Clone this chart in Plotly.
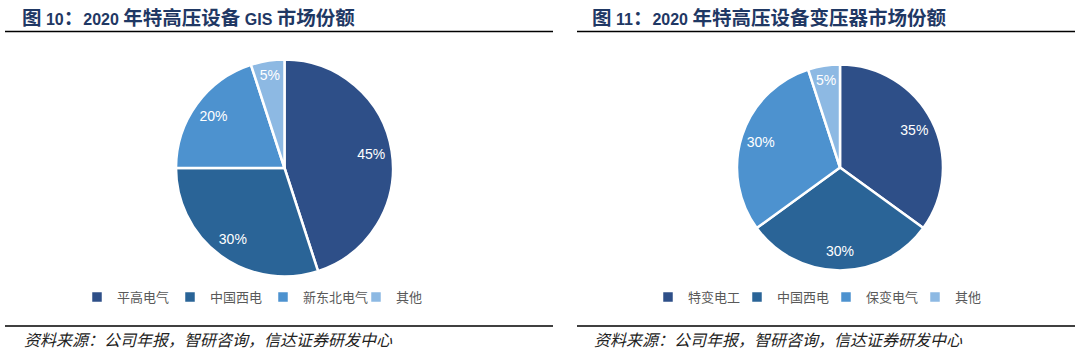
import re
import plotly.graph_objects as go

# ---- data ----
gis_labels = ["平高电气", "中国西电", "新东北电气", "其他"]
gis_values = [45, 30, 20, 5]
tr_labels = ["特变电工", "中国西电", "保变电气", "其他"]
tr_values = [35, 30, 30, 5]
title_left = "图 10：2020 年特高压设备 GIS 市场份额"
title_right = "图 11：2020 年特高压设备变压器市场份额"
source_text = "资料来源：公司年报，智研咨询，信达证券研发中心"

colors = ["#2E4F88", "#2A6497", "#4D92CF", "#8DB9E3"]
W, H = 1080, 356


def px(x):
    return x / W


def py(y):
    return 1 - y / H


def big_cjk(s, size):
    # CJK glyphs in the original title are set larger than the Latin ones
    return re.sub(r"([\u3000-\u9fff\uff00-\uffef]+)",
                  lambda m: f'<span style="font-size:{size}px">{m.group(1)}</span>', s)


fig = go.Figure()


def add_pie(labels, values, dom_x, dom_y, legend_name):
    dom = dict(x=[px(dom_x[0]), px(dom_x[1])], y=[py(dom_y[1]), py(dom_y[0])])
    fig.add_trace(go.Pie(
        labels=labels, values=values, sort=False, direction="clockwise",
        marker=dict(colors=colors, line=dict(color="white", width=2.5)),
        textinfo="none", domain=dom, legend=legend_name,
        hoverinfo="label+percent",
    ))
    fig.add_trace(go.Pie(
        labels=labels, values=values, sort=False, direction="clockwise",
        hole=0.62,
        marker=dict(colors=["rgba(0,0,0,0)"] * len(values), line=dict(width=0)),
        texttemplate="%{percent:.0%}", textposition="inside",
        insidetextorientation="horizontal",
        textfont=dict(color="white", size=14, family="Liberation Sans, Arial"),
        domain=dom, showlegend=False, hoverinfo="skip",
    ))


add_pie(gis_labels, gis_values, (176, 393), (59, 277), "legend")
# trailing space keeps these legend entries separate from the left chart's
add_pie([l + " " for l in tr_labels], tr_values, (737, 943), (64, 271), "legend2")

legend_common = dict(
    orientation="h", yanchor="middle", xanchor="center",
    font=dict(size=13, color="#595959", family="Noto Sans CJK SC"),
    itemwidth=30, bgcolor="rgba(0,0,0,0)", traceorder="normal",
    entrywidthmode="pixels",
)
fig.update_layout(
    width=W, height=H,
    margin=dict(l=0, r=0, t=0, b=0),
    paper_bgcolor="white", plot_bgcolor="white",
    legend=dict(x=px(263), y=py(297), entrywidth=48, **legend_common),
    legend2=dict(x=px(826), y=py(297), entrywidth=44, **legend_common),
)

shapes = []
for x0, x1 in [(5, 553), (577, 1075)]:
    for yy in (31.5, 326):
        shapes.append(dict(type="line", xref="paper", yref="paper", x0=px(x0), x1=px(x1),
                           y0=py(yy), y1=py(yy), line=dict(color="black", width=1.5)))
fig.update_layout(shapes=shapes)

title_font = dict(size=16, color="#1F3864",
                  family="Liberation Sans, Arial, Noto Sans CJK SC", weight="bold")
src_font = dict(size=16, color="#222222", family="Noto Sans CJK SC", style="italic")
annotations = []
for xl, title in [(20, title_left), (590, title_right)]:
    annotations.append(dict(text=big_cjk(title, 19.5), x=px(xl), y=py(18), xref="paper", yref="paper",
                            xanchor="left", yanchor="middle", showarrow=False, font=title_font))
    annotations.append(dict(text=source_text, x=px(xl + 2), y=py(339), xref="paper", yref="paper",
                            xanchor="left", yanchor="middle", showarrow=False, font=src_font))
fig.update_layout(annotations=annotations)

fig.write_html("out.html", config={"displayModeBar": False},
               post_script="document.body.style.margin='0';")
